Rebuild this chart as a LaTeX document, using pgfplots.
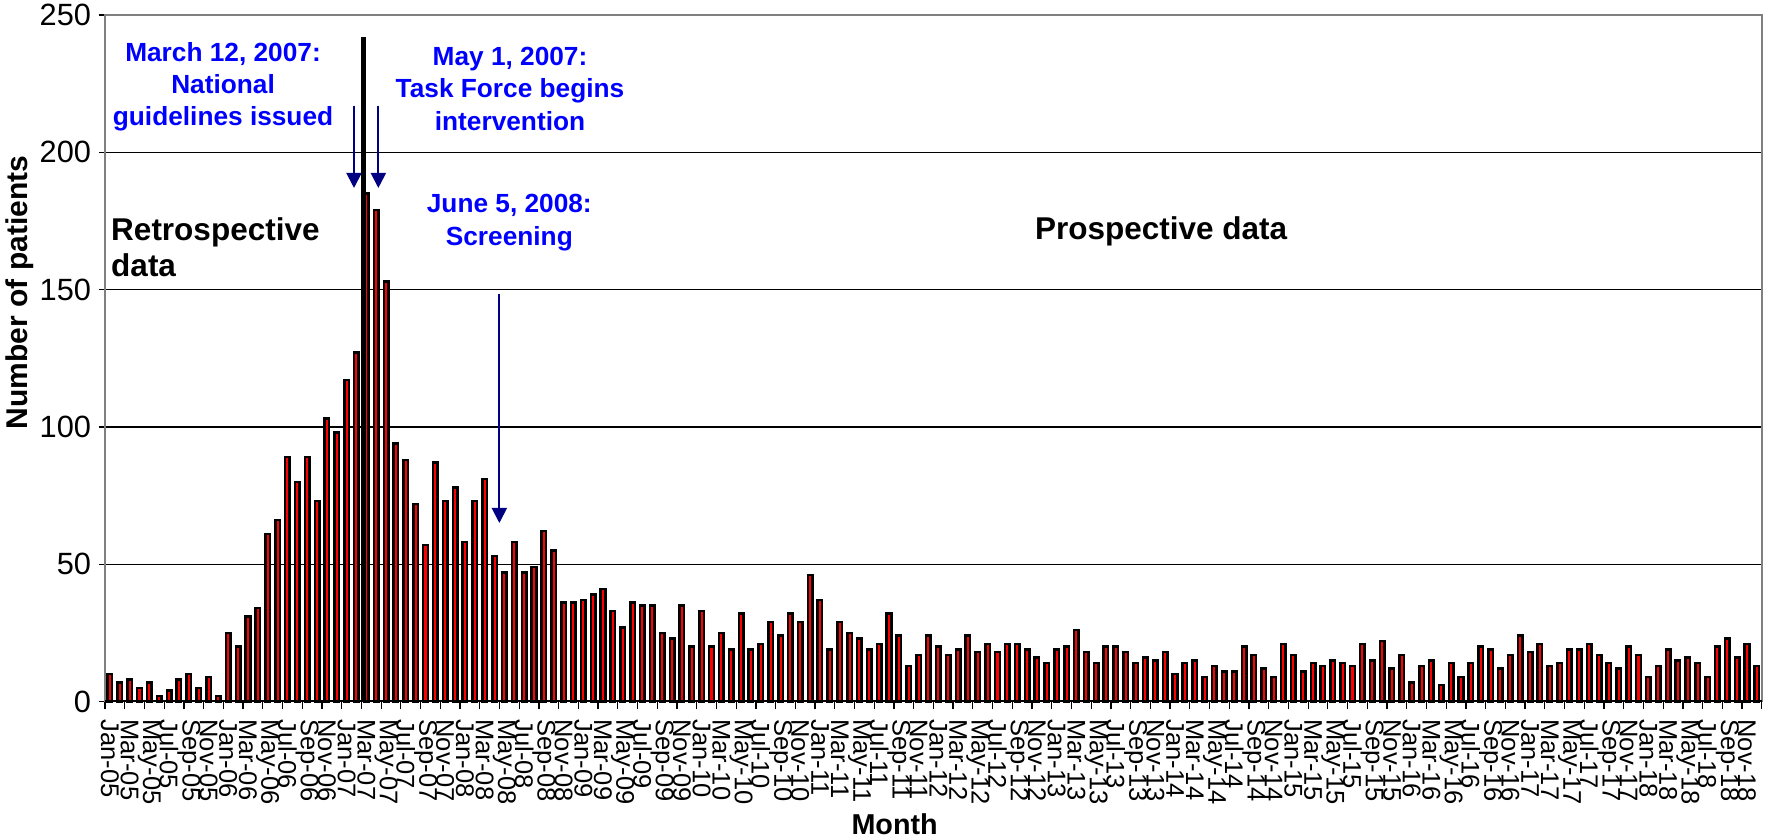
\documentclass[border=0pt]{standalone}
\usepackage{fontspec}
\setmainfont{Liberation Sans}
\usepackage{pgfplots}
\usepackage{pgfplotstable}
\pgfplotsset{compat=1.18}
\usetikzlibrary{arrows.meta}

\definecolor{barred}{HTML}{FF0000}
\definecolor{arrownavy}{HTML}{000080}
\definecolor{noteblue}{HTML}{0000FF}
\definecolor{framegray}{HTML}{808080}

% monthly patients, Jan-05 (0) .. Dec-18 (167)
\pgfplotstableread{
idx n
0 10
1 7
2 8
3 5
4 7
5 2
6 4
7 8
8 10
9 5
10 9
11 2
12 25
13 20
14 31
15 34
16 61
17 66
18 89
19 80
20 89
21 73
22 103
23 98
24 117
25 127
26 185
27 179
28 153
29 94
30 88
31 72
32 57
33 87
34 73
35 78
36 58
37 73
38 81
39 53
40 47
41 58
42 47
43 49
44 62
45 55
46 36
47 36
48 37
49 39
50 41
51 33
52 27
53 36
54 35
55 35
56 25
57 23
58 35
59 20
60 33
61 20
62 25
63 19
64 32
65 19
66 21
67 29
68 24
69 32
70 29
71 46
72 37
73 19
74 29
75 25
76 23
77 19
78 21
79 32
80 24
81 13
82 17
83 24
84 20
85 17
86 19
87 24
88 18
89 21
90 18
91 21
92 21
93 19
94 16
95 14
96 19
97 20
98 26
99 18
100 14
101 20
102 20
103 18
104 14
105 16
106 15
107 18
108 10
109 14
110 15
111 9
112 13
113 11
114 11
115 20
116 17
117 12
118 9
119 21
120 17
121 11
122 14
123 13
124 15
125 14
126 13
127 21
128 15
129 22
130 12
131 17
132 7
133 13
134 15
135 6
136 14
137 9
138 14
139 20
140 19
141 12
142 17
143 24
144 18
145 21
146 13
147 14
148 19
149 19
150 21
151 17
152 14
153 12
154 20
155 17
156 9
157 13
158 19
159 15
160 16
161 14
162 9
163 20
164 23
165 16
166 21
167 13
}\patients

\begin{document}
\begin{tikzpicture}
\begin{axis}[
  scale only axis, width=662.7pt, height=274.6pt,
  xmin=-0.5, xmax=167.5, ymin=0, ymax=250,
  clip=false,
  tick pos=left, tick align=outside,
  ytick={0,50,...,250},
  xtick={0,2,...,166},
  xticklabels={Jan-05,Mar-05,May-05,Jul-05,Sep-05,Nov-05,
    Jan-06,Mar-06,May-06,Jul-06,Sep-06,Nov-06,
    Jan-07,Mar-07,May-07,Jul-07,Sep-07,Nov-07,
    Jan-08,Mar-08,May-08,Jul-08,Sep-08,Nov-08,
    Jan-09,Mar-09,May-09,Jul-09,Sep-09,Nov-09,
    Jan-10,Mar-10,May-10,Jul-10,Sep-10,Nov-10,
    Jan-11,Mar-11,May-11,Jul-11,Sep-11,Nov-11,
    Jan-12,Mar-12,May-12,Jul-12,Sep-12,Nov-12,
    Jan-13,Mar-13,May-13,Jul-13,Sep-13,Nov-13,
    Jan-14,Mar-14,May-14,Jul-14,Sep-14,Nov-14,
    Jan-15,Mar-15,May-15,Jul-15,Sep-15,Nov-15,
    Jan-16,Mar-16,May-16,Jul-16,Sep-16,Nov-16,
    Jan-17,Mar-17,May-17,Jul-17,Sep-17,Nov-17,
    Jan-18,Mar-18,May-18,Jul-18,Sep-18,Nov-18},
  minor xtick={-0.5,1.5,...,167.5},
  every major x tick/.append style={draw=none},
  major tick length=2.4pt, minor tick length=3.2pt,
  tick style={black, line width=0.5pt},
  ymajorgrids, major grid style={black, line width=0.5pt},
  axis line style={framegray, line width=0.8pt},
  /pgf/number format/assume math mode=true,
  xticklabel style={rotate=-90, anchor=west, inner sep=0pt, xshift=4.6pt,
    font=\fontsize{10.2}{12}\selectfont},
  yticklabel style={inner sep=0pt, xshift=-3pt,
    font=\fontsize{12.3}{14}\selectfont},
]
\addplot[ybar, bar width=0.46, fill=barred, draw=black, line width=1pt]
  table[x=idx, y=n] {\patients};
% guideline date marker
\addplot[black, line width=1.9pt] coordinates {(25.70,0) (25.70,242)};
\draw[black, line width=0.8pt] (axis cs:-0.5,0) -- (axis cs:167.5,0);

\draw[arrownavy, line width=0.8pt, -{Triangle[length=6pt,width=6pt]}]
  (axis cs:24.75,217) -- (axis cs:24.75,187);
\draw[arrownavy, line width=0.8pt, -{Triangle[length=6pt,width=6pt]}]
  (axis cs:27.22,217) -- (axis cs:27.22,187);
\draw[arrownavy, line width=0.8pt, -{Triangle[length=6pt,width=6pt]}]
  (axis cs:39.49,148.4) -- (axis cs:39.49,65);

\node[font=\bfseries\fontsize{10.5}{12.85}\selectfont, text=noteblue, align=center]
  at (axis cs:11.47,223.9) {March 12, 2007:\\National\\guidelines issued};
\node[font=\bfseries\fontsize{10.5}{12.85}\selectfont, text=noteblue, align=center]
  at (axis cs:40.57,223.1) {May 1, 2007:\\Task Force begins\\intervention};
\node[font=\bfseries\fontsize{10.5}{12.85}\selectfont, text=noteblue, align=center]
  at (axis cs:40.5,174.4) {June 5, 2008:\\Screening};
\node[font=\bfseries\fontsize{12.6}{14.6}\selectfont, align=left, anchor=west, inner sep=0pt]
  at ([xshift=2.3pt]axis cs:-0.5,165.5) {Retrospective\\data};
\node[font=\bfseries\fontsize{12.6}{14.6}\selectfont]
  at (axis cs:106.6,171.2) {Prospective data};

% axis titles
\node[font=\bfseries\fontsize{12}{14}\selectfont, rotate=90]
  at ([xshift=-34pt]rel axis cs:0,0.596) {Number of patients};
\node[font=\bfseries\fontsize{11.5}{13}\selectfont]
  at ([yshift=-49.2pt]rel axis cs:0.4766,0) {Month};
\end{axis}
\pgfresetboundingbox
\path[use as bounding box] ([shift={(-42pt,-54.6pt)}]current axis.south west)
  rectangle ([shift={(3.7pt,6pt)}]current axis.north east);
\end{tikzpicture}
\end{document}
